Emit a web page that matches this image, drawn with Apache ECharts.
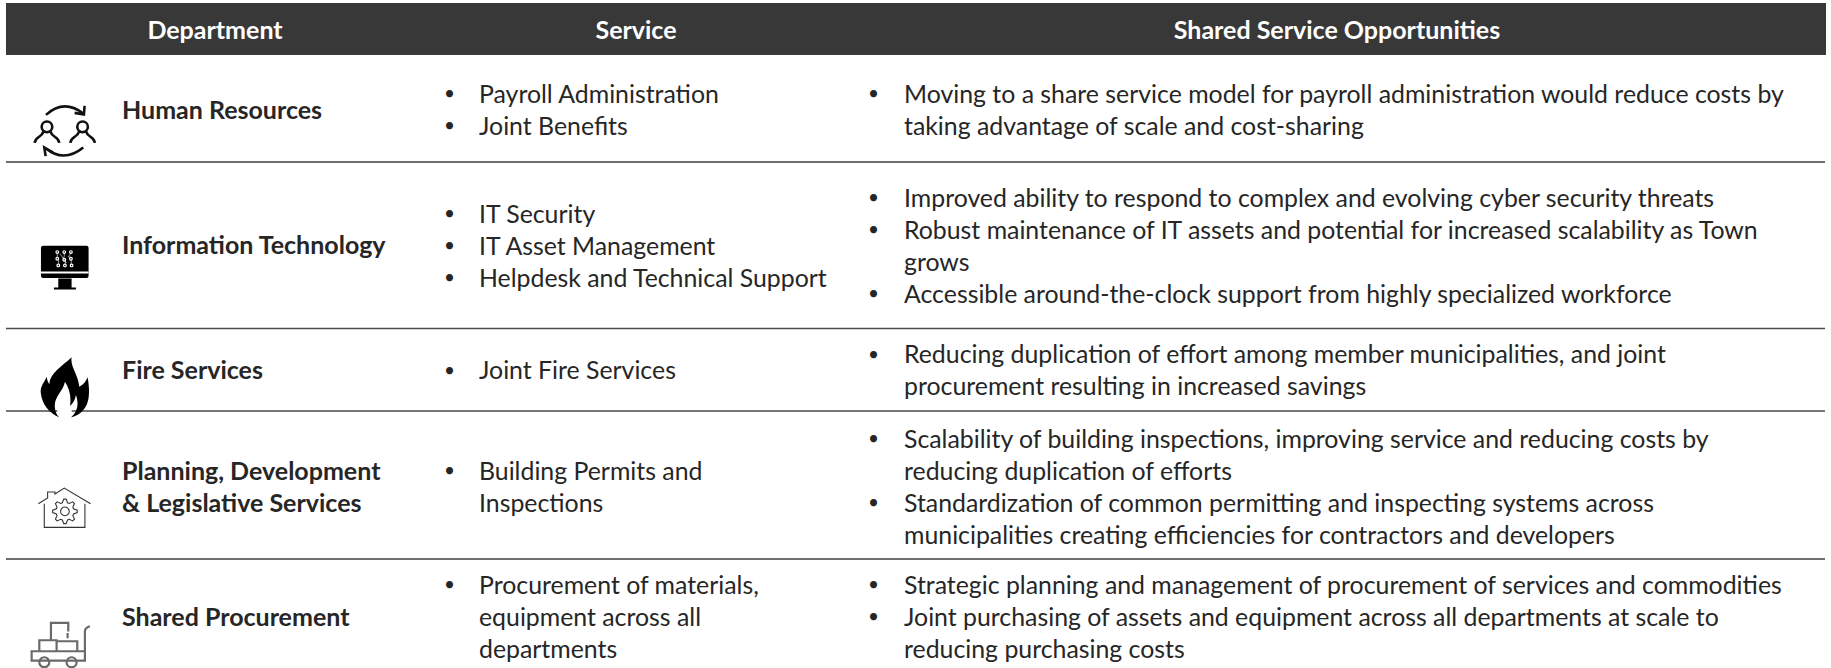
<!DOCTYPE html>
<html><head><meta charset="utf-8">
<style>html,body{margin:0;padding:0;background:#fff}#c{width:1831px;height:668px}
#c text{font-variant-ligatures:none}</style>
<script src="https://cdn.jsdelivr.net/npm/echarts@6/dist/echarts.min.js"></script></head>
<body><div id="c"></div>
<script>
// ---- table content ----
const headers = ['Department', 'Service', 'Shared Service Opportunities'];
const departments = [
  ['Human Resources'],
  ['Information Technology'],
  ['Fire Services'],
  ['Planning, Development', '& Legislative Services'],
  ['Shared Procurement']
];
const services = [
  [['Payroll Administration'], ['Joint Benefits']],
  [['IT Security'], ['IT Asset Management'], ['Helpdesk and Technical Support']],
  [['Joint Fire Services']],
  [['Building Permits and', 'Inspections']],
  [['Procurement of materials,', 'equipment across all', 'departments']]
];
const opportunities = [
  [['Moving to a share service model for payroll administration would reduce costs by', 'taking advantage of scale and cost-sharing']],
  [['Improved ability to respond to complex and evolving cyber security threats'],
   ['Robust maintenance of IT assets and potential for increased scalability as Town', 'grows'],
   ['Accessible around-the-clock support from highly specialized workforce']],
  [['Reducing duplication of effort among member municipalities, and joint', 'procurement resulting in increased savings']],
  [['Scalability of building inspections, improving service and reducing costs by', 'reducing duplication of efforts'],
   ['Standardization of common permitting and inspecting systems across', 'municipalities creating efficiencies for contractors and developers']],
  [['Strategic planning and management of procurement of services and commodities'],
   ['Joint purchasing of assets and equipment across all departments at scale to', 'reducing purchasing costs']]
];

// ---- layout (separate from content) ----
const W = 1831, H = 668;
const headerBand = {x0: 6, x1: 1826, y0: 3, y1: 55};
const headerCx = [215, 636, 1337];
const rowCentre = [108.8, 244.5, 369, 485.5, 615.8];
const deptCentre = [108.5, 244, 369, 485.5, 616];
const rules = [[162, '#6e6e6e', 2], [328.5, '#4a4a4a', 1.6], [411, '#4a4a4a', 1.6], [559, '#6e6e6e', 2]];
const pitch = 32;
const colX = {dept: 122, svcB: 444, svc: 479, oppB: 868, opp: 904};
const FONT = 'Lato, Carlito, sans-serif';
const SIZE = {n: 24.85, b: 25, h: 25, d: 19};
const INK = '#262626';

function block(paras, cy, xB, xT) {
  const n = paras.reduce((a, p) => a + p.length, 0);
  let y = cy - (n - 1) * pitch / 2;
  const out = [];
  paras.forEach(p => p.forEach((t, i) => {
    if (i === 0) out.push([xB, y, '•', 'd', 'left']);
    out.push([xT, y, t, 'n', 'left']);
    y += pitch;
  }));
  return out;
}
const textRows = [];
headers.forEach((t, i) => textRows.push([headerCx[i], 28.5, t, 'h', 'center']));
departments.forEach((d, r) => d.forEach((t, i) =>
  textRows.push([colX.dept, deptCentre[r] - (d.length - 1) * pitch / 2 + i * pitch, t, 'b', 'left'])));
services.forEach((s, r) => textRows.push(...block(s, rowCentre[r], colX.svcB, colX.svc)));
opportunities.forEach((o, r) => textRows.push(...block(o, rowCentre[r], colX.oppB, colX.opp)));

// ---- icons: outlines in 3x-magnified units, dx/dy shift them to their row ----
function gear(cx, cy, rO, rI, teeth) {
  let d = '';
  for (let i = 0; i < teeth * 4; i++) {
    const a = (i - 0.5) * Math.PI * 2 / (teeth * 4);
    const r = (i % 4 < 2) ? rO : rI;
    d += (i ? 'L' : 'M') + (cx + r * Math.cos(a)).toFixed(1) + ' ' + (cy + r * Math.sin(a)).toFixed(1);
  }
  return d + 'Z';
}
function ring(cx, cy, r) {
  return `M${cx - r} ${cy}A${r} ${r} 0 1 1 ${cx + r} ${cy}A${r} ${r} 0 1 1 ${cx - r} ${cy}Z`;
}
const person = dx => ring(141 + dx, 381, 16) +
  `M${104 + dx} 429C${106 + dx} 410 ${126 + dx} 412 ${130 + dx} 396M${152 + dx} 396C${156 + dx} 412 ${176 + dx} 410 ${178 + dx} 429`;
let circuit = '';
[[172, 757], [193, 757], [213, 757], [172, 777], [193, 780], [213, 777], [175, 797], [195, 797], [215, 797]]
  .forEach(p => circuit += ring(p[0], p[1], 4));
const circuitLinks = 'M172 761V773M193 761V770L189 775M213 761L205 771L213 773M176 781V793M196 784V793M214 781V793M180 762L200 790';

const icons = [
  {d: 'M138 345Q192 296 250 341M224 339L252 344L254 318M250 443Q192 490 137 445M160 458L133 443L137 469' + person(0) + person(107),
   stroke: '#111', lw: 2.6},
  {d: 'M130 738H260Q266 738 266 744V829Q266 835 260 835H130Q123 835 123 829V744Q123 738 130 738ZM175 836H215V863H175ZM162 863H228V869H162Z', fill: '#000'},
  {d: 'M123 815H266V821H123Z', fill: '#fff'},
  {d: circuit, stroke: '#fff', lw: 1.2},
  {d: circuitLinks, stroke: '#fff', lw: 0.6},
  {d: 'M110 176L155 176L155 206L118 206Z', fill: '#fff', dx: 60, dy: 1050},
  {d: 'M155 22C150 50 175 75 178 110C190 105 198 95 203 82C210 120 210 160 190 180C180 192 168 198 153 203C172 185 178 165 168 135C165 150 160 160 150 168C155 140 148 115 135 95C130 125 100 140 105 175C107 190 112 197 118 202C90 190 65 165 62 125C62 105 75 95 80 80C82 92 84 97 88 102C90 70 125 50 155 22Z', fill: '#000', dx: 60, dy: 1050},
  {d: 'M115 852L143 835V817H165V823L193 805L272 852M133 852V923H255V852' + gear(195, 875, 37, 27, 8) + ring(195, 875, 13), stroke: '#333', lw: 1.1, dy: 660},
  {d: 'M153 1262V1210H205V1236M203 1240V1256M118 1295V1262H170V1295M170 1265H232V1295M95 1295H255V1323H95ZM255 1295V1235Q255 1225 270 1220' + ring(133, 1328, 15) + ring(215, 1328, 15), stroke: '#6a6a6a', lw: 2.2, dy: 660}
];

const chart = echarts.init(document.getElementById('c'), null, {renderer: 'svg'});
chart.setOption({
  animation: false,
  backgroundColor: '#fff',
  grid: {left: 0, right: 0, top: 0, bottom: 0},
  xAxis: {type: 'value', min: 0, max: W, show: false},
  yAxis: {type: 'value', min: 0, max: H, inverse: true, show: false},
  series: [
    {type: 'custom', silent: true, z: 1, data: [[headerBand.x0, headerBand.y0, headerBand.x1, headerBand.y1]],
     renderItem: (p, api) => {
       const a = api.coord([api.value(0), api.value(1)]), b = api.coord([api.value(2), api.value(3)]);
       return {type: 'rect', shape: {x: a[0], y: a[1], width: b[0] - a[0], height: b[1] - a[1]}, style: {fill: '#383838'}};
     }},
    {type: 'custom', silent: true, z: 2, data: rules.map((r, i) => [6, r[0], 1825, i]),
     renderItem: (p, api) => {
       const a = api.coord([api.value(0), api.value(1)]), b = api.coord([api.value(2), api.value(1)]);
       const r = rules[api.value(3)];
       return {type: 'line', shape: {x1: a[0], y1: a[1], x2: b[0], y2: b[1]}, style: {stroke: r[1], lineWidth: r[2]}};
     }},
    {type: 'custom', silent: true, z: 3, data: icons.map((_, i) => [0, 0, i]),
     renderItem: (p, api) => {
       const ic = icons[api.value(2)];
       const o = api.coord([(ic.dx || 0) / 3, (ic.dy || 0) / 3]);
       return {type: 'path', x: o[0], y: o[1], scaleX: 1 / 3, scaleY: 1 / 3, layout: 'cover',
         shape: {pathData: 'M0 0L0.01 0' + ic.d + 'M2000 2000L2000.01 2000', x: 0, y: 0, width: 2000.01, height: 2000},
         style: {fill: ic.fill || 'none', stroke: ic.stroke || 'none', lineWidth: ic.lw ? ic.lw * 3 : 0}};
     }},
    {type: 'custom', silent: true, z: 4, data: textRows.map((r, i) => [r[0], r[1], i]),
     renderItem: (p, api) => {
       const r = textRows[api.value(2)];
       const c = api.coord([r[0], r[1]]);
       const kind = r[3];
       return {type: 'text', x: c[0], y: c[1], style: {
         text: r[2], align: r[4], verticalAlign: 'middle',
         font: (kind === 'b' || kind === 'h' ? '700 ' : '400 ') + SIZE[kind] + 'px ' + FONT,
         fill: kind === 'h' ? '#fff' : INK}};
     }}
  ]
});
</script></body></html>
